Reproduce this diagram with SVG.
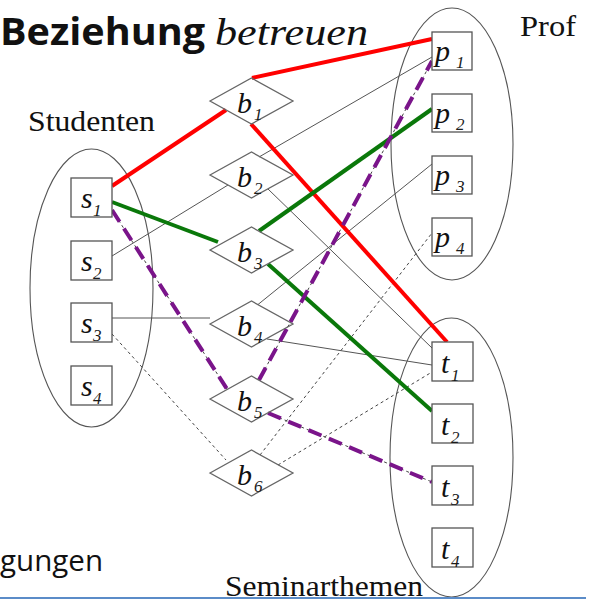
<svg xmlns="http://www.w3.org/2000/svg" width="594" height="601" viewBox="0 0 594 601">
<style>
.set{fill:none;stroke:#555;stroke-width:1.1}
.box{fill:#fff;stroke:#555;stroke-width:1.3}
.dia{fill:none;stroke:#666;stroke-width:1.3}
.lbl{font-family:"Liberation Serif",serif;font-style:italic;font-size:30px;fill:#111}
.sub{font-family:"Liberation Serif",serif;font-style:italic;font-size:17px;fill:#1a1a1a}
.cap{font-family:"Liberation Serif",serif;fill:#111}
.thin{stroke:#555;stroke-width:1;fill:none}
.dash{stroke:#444;stroke-width:1;stroke-dasharray:3 3;fill:none}
.red{stroke:#ff0000;stroke-width:4;fill:none}
.green{stroke:#0a780a;stroke-width:4;fill:none}
.purple{stroke:#7a148a;stroke-width:4;stroke-dasharray:14 8;fill:none}
</style>
<rect width="594" height="601" fill="#fff"/>
<text x="0" y="45" font-family="'Open Sans','Liberation Sans',sans-serif" font-weight="bold" font-size="38" textLength="205" lengthAdjust="spacingAndGlyphs" fill="#111">Beziehung</text>
<text x="215" y="45" class="cap" font-style="italic" font-size="38" textLength="153" lengthAdjust="spacingAndGlyphs">betreuen</text>
<text x="28" y="131" class="cap" font-size="29" textLength="127" lengthAdjust="spacingAndGlyphs">Studenten</text>
<text x="520" y="36" class="cap" font-size="30" textLength="56" lengthAdjust="spacingAndGlyphs">Prof</text>
<text x="0" y="571" font-family="'Open Sans','Liberation Sans',sans-serif" font-size="30" textLength="103" lengthAdjust="spacingAndGlyphs" fill="#111">gungen</text>
<g id="set-studenten"><ellipse class="set" cx="91.5" cy="288" rx="61.5" ry="139"/></g>
<g id="set-prof"><ellipse class="set" cx="452" cy="144" rx="61" ry="136"/></g>
<g id="set-seminarthemen"><ellipse class="set" cx="451.5" cy="457.5" rx="61.5" ry="139.5"/></g>
<g id="connectors">
<line class="thin" x1="259" y1="157" x2="432" y2="57"/>
<line class="thin" x1="112" y1="256" x2="228" y2="185"/>
<line class="thin" x1="268" y1="189" x2="432" y2="348"/>
<line class="thin" x1="112" y1="318" x2="210" y2="318"/>
<line class="thin" x1="258" y1="304.5" x2="432" y2="164"/>
<line class="thin" x1="267" y1="339" x2="432" y2="365"/>
<line class="dash" x1="112" y1="334" x2="226" y2="460"/>
<line class="dash" x1="260" y1="455" x2="432" y2="233"/>
<line class="dash" x1="278" y1="465" x2="432" y2="372"/>
<line class="dash" x1="112" y1="210" x2="227" y2="389"/>
<line class="dash" x1="259" y1="380" x2="432" y2="61"/>
<line class="dash" x1="268" y1="413" x2="432" y2="482"/>
<line class="red" x1="112" y1="186" x2="226" y2="110"/>
<line class="red" x1="252" y1="78" x2="432" y2="39"/>
<line class="red" x1="251" y1="124" x2="447" y2="342"/>
<line class="green" x1="112" y1="202" x2="218" y2="242"/>
<line class="green" x1="259" y1="231" x2="432" y2="109"/>
<line class="green" x1="268" y1="264" x2="432" y2="411"/>
<line class="purple" x1="112" y1="210" x2="227" y2="389"/>
<line class="purple" x1="259" y1="380" x2="432" y2="61"/>
<line class="purple" x1="268" y1="413" x2="432" y2="482"/>
</g>
<g id="s1"><rect class="box" x="71" y="178" width="41" height="39"/><text class="lbl" x="81" y="208">s</text><text class="sub" x="93" y="216">1</text></g>
<g id="s2"><rect class="box" x="71" y="241" width="41" height="39"/><text class="lbl" x="81" y="271">s</text><text class="sub" x="93" y="279">2</text></g>
<g id="s3"><rect class="box" x="71" y="303" width="41" height="39"/><text class="lbl" x="81" y="333">s</text><text class="sub" x="93" y="341">3</text></g>
<g id="s4"><rect class="box" x="71" y="366" width="41" height="39"/><text class="lbl" x="81" y="396">s</text><text class="sub" x="93" y="404">4</text></g>
<g id="p1"><rect class="box" x="432" y="32" width="40" height="38"/><text class="lbl" x="435" y="61">p</text><text class="sub" x="456" y="68">1</text></g>
<g id="p2"><rect class="box" x="432" y="94" width="40" height="38"/><text class="lbl" x="435" y="123">p</text><text class="sub" x="456" y="130">2</text></g>
<g id="p3"><rect class="box" x="432" y="156" width="40" height="38"/><text class="lbl" x="435" y="185">p</text><text class="sub" x="456" y="192">3</text></g>
<g id="p4"><rect class="box" x="432" y="218" width="40" height="38"/><text class="lbl" x="435" y="247">p</text><text class="sub" x="456" y="254">4</text></g>
<g id="t1"><rect class="box" x="432" y="342" width="41" height="39"/><text class="lbl" x="441" y="373">t</text><text class="sub" x="451" y="381">1</text></g>
<g id="t2"><rect class="box" x="432" y="404" width="41" height="39"/><text class="lbl" x="441" y="435">t</text><text class="sub" x="451" y="443">2</text></g>
<g id="t3"><rect class="box" x="432" y="466" width="41" height="39"/><text class="lbl" x="441" y="497">t</text><text class="sub" x="451" y="505">3</text></g>
<g id="t4"><rect class="box" x="432" y="528" width="41" height="39"/><text class="lbl" x="441" y="559">t</text><text class="sub" x="451" y="567">4</text></g>
<g id="b1"><polygon class="dia" points="210,101 251.5,78 293,101 251.5,124"/><text class="lbl" x="237" y="113">b</text><text class="sub" x="254" y="120">1</text></g>
<g id="b2"><polygon class="dia" points="210,175 251.5,152 293,175 251.5,198"/><text class="lbl" x="237" y="187">b</text><text class="sub" x="254" y="194">2</text></g>
<g id="b3"><polygon class="dia" points="210,250 251.5,227 293,250 251.5,273"/><text class="lbl" x="237" y="262">b</text><text class="sub" x="254" y="269">3</text></g>
<g id="b4"><polygon class="dia" points="210,324 251.5,301 293,324 251.5,347"/><text class="lbl" x="237" y="336">b</text><text class="sub" x="254" y="343">4</text></g>
<g id="b5"><polygon class="dia" points="210,399 251.5,376 293,399 251.5,422"/><text class="lbl" x="237" y="411">b</text><text class="sub" x="254" y="418">5</text></g>
<g id="b6"><polygon class="dia" points="210,473 251.5,450 293,473 251.5,496"/><text class="lbl" x="237" y="485">b</text><text class="sub" x="254" y="492">6</text></g>
<text x="225" y="596" class="cap" font-size="30" textLength="198" lengthAdjust="spacingAndGlyphs">Seminarthemen</text>
<line x1="0" y1="598" x2="586" y2="598" stroke="#5b8cc8" stroke-width="2"/>
</svg>
